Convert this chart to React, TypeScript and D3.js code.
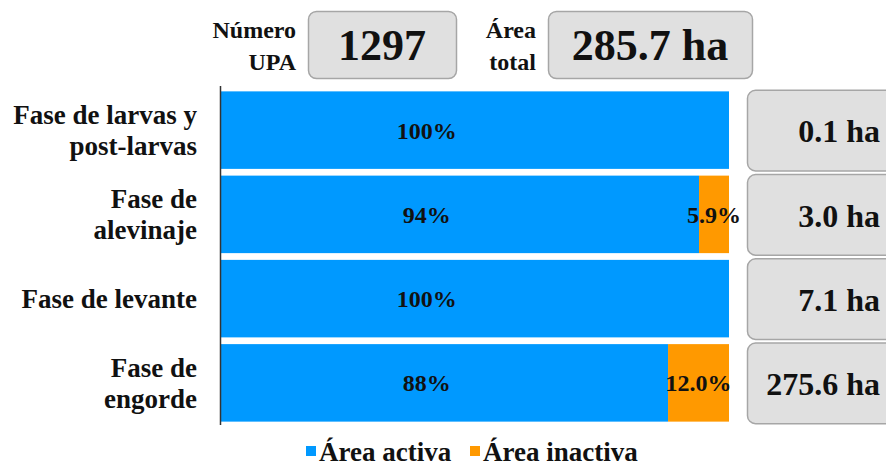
import React, { useEffect, useRef } from 'react';
import * as d3 from 'd3';

// chart data
const categories = [
  ['Fase de larvas y', 'post-larvas'],
  ['Fase de', 'alevinaje'],
  ['Fase de levante'],
  ['Fase de', 'engorde'],
];
const activeShare = [100, 94.1, 100, 88.0];
const inactiveShare = [0, 5.9, 0, 12.0];
const areaHa = [0.1, 3.0, 7.1, 275.6];
const numeroUPA = 1297;
const areaTotal = 285.7;
const legendLabels = ['Área activa', 'Área inactiva'];

const BLUE = '#0099ff';
const ORANGE = '#ff9900';
const FONT = "'Liberation Serif', 'DejaVu Serif', 'Times New Roman', Times, serif";

const App = () => {
  const ref = useRef<SVGSVGElement | null>(null);

  useEffect(() => {
    document.body.style.margin = '0';
    const svg = d3.select(ref.current);
    svg.selectAll('*').remove();
    svg.attr('width', 886).attr('height', 466);

    const keys = categories.map((c, i) => String(i));

    const x = d3.scaleLinear().domain([0, 100]).range([221, 729]);
    const y = d3.scaleBand()
      .domain(keys)
      .range([88, 425])
      .paddingInner(0.08)
      .paddingOuter(0.04);

    // bars
    const rows = svg.selectAll('.row')
      .data(keys)
      .enter().append('g')
      .attr('class', 'row');

    rows.append('rect')
      .attr('x', x(0))
      .attr('y', d => y(d)!)
      .attr('width', (d, i) => x(activeShare[i]) - x(0))
      .attr('height', y.bandwidth())
      .attr('fill', BLUE);

    rows.append('rect')
      .attr('x', (d, i) => x(activeShare[i]))
      .attr('y', d => y(d)!)
      .attr('width', (d, i) => x(activeShare[i] + inactiveShare[i]) - x(activeShare[i]))
      .attr('height', y.bandwidth())
      .attr('fill', ORANGE);

    rows.append('text')
      .attr('x', x(40.5))
      .attr('y', d => y(d)! + y.bandwidth() / 2)
      .attr('dy', '0.35em')
      .attr('text-anchor', 'middle')
      .attr('font-size', 24)
      .text((d, i) => `${Math.round(activeShare[i])}%`);

    rows.filter((d, i) => inactiveShare[i] > 0)
      .append('text')
      .attr('x', (d) => {
        const i = +d;
        return x(activeShare[i] + inactiveShare[i] / 2);
      })
      .attr('y', d => y(d)! + y.bandwidth() / 2)
      .attr('dy', '0.35em')
      .attr('text-anchor', 'middle')
      .attr('font-size', 24)
      .text(d => `${inactiveShare[+d].toFixed(1)}%`);

    // category labels
    rows.append('text')
      .attr('text-anchor', 'end')
      .attr('font-size', 27)
      .each(function (d, i) {
        const lines = categories[i];
        const cy = y(d)! + y.bandwidth() / 2;
        const t = d3.select(this);
        lines.forEach((ln, j) => {
          t.append('tspan')
            .attr('x', 197)
            .attr('y', cy + (j - (lines.length - 1) / 2) * 31)
            .attr('dy', '0.35em')
            .text(ln);
        });
      });

    // axis line
    svg.append('line')
      .attr('x1', 220.5).attr('x2', 220.5)
      .attr('y1', 86).attr('y2', 425)
      .attr('stroke', '#333')
      .attr('stroke-width', 1.5);

    // area boxes on the right
    rows.append('rect')
      .attr('x', 747.5)
      .attr('y', d => y(d)! - 1)
      .attr('width', 150)
      .attr('height', y.bandwidth() + 3)
      .attr('rx', 8)
      .attr('fill', '#e0e0e0')
      .attr('stroke', '#a6a6a6')
      .attr('stroke-width', 1.5);

    rows.append('text')
      .attr('x', 880)
      .attr('y', d => y(d)! + y.bandwidth() / 2 + 1)
      .attr('dy', '0.35em')
      .attr('text-anchor', 'end')
      .attr('font-size', 32)
      .text((d, i) => `${areaHa[i].toFixed(1)} ha`);

    // header boxes
    const header = [
      { lines: ['Número', 'UPA'], value: String(numeroUPA), x0: 308, x1: 456, lx: 296 },
      { lines: ['Área', 'total'], value: `${areaTotal.toFixed(1)} ha`, x0: 548, x1: 752, lx: 536 },
    ];
    header.forEach(h => {
      svg.append('rect')
        .attr('x', h.x0 + 0.5).attr('y', 11.5)
        .attr('width', h.x1 - h.x0).attr('height', 67)
        .attr('rx', 8)
        .attr('fill', '#e0e0e0')
        .attr('stroke', '#a6a6a6')
        .attr('stroke-width', 1.5);
      svg.append('text')
        .attr('x', (h.x0 + h.x1) / 2)
        .attr('y', 45)
        .attr('dy', '0.35em')
        .attr('text-anchor', 'middle')
        .attr('font-size', 44)
        .text(h.value);
      h.lines.forEach((ln, j) => {
        svg.append('text')
          .attr('x', h.lx)
          .attr('y', 38 + j * 32)
          .attr('text-anchor', 'end')
          .attr('font-size', 24)
          .text(ln);
      });
    });

    // legend
    const legend = svg.append('g');
    const lx = [306, 470];
    legendLabels.forEach((lab, i) => {
      legend.append('rect')
        .attr('x', lx[i]).attr('y', 446)
        .attr('width', 10).attr('height', 10)
        .attr('fill', i === 0 ? BLUE : ORANGE);
      legend.append('text')
        .attr('x', lx[i] + 13)
        .attr('y', 461)
        .attr('font-size', 27)
        .text(lab);
    });

    svg.selectAll('text')
      .attr('font-family', FONT)
      .attr('font-weight', 'bold')
      .attr('fill', '#111');
  }, []);

  return <svg ref={ref} style={{ display: 'block' }} />;
};

export default App;
